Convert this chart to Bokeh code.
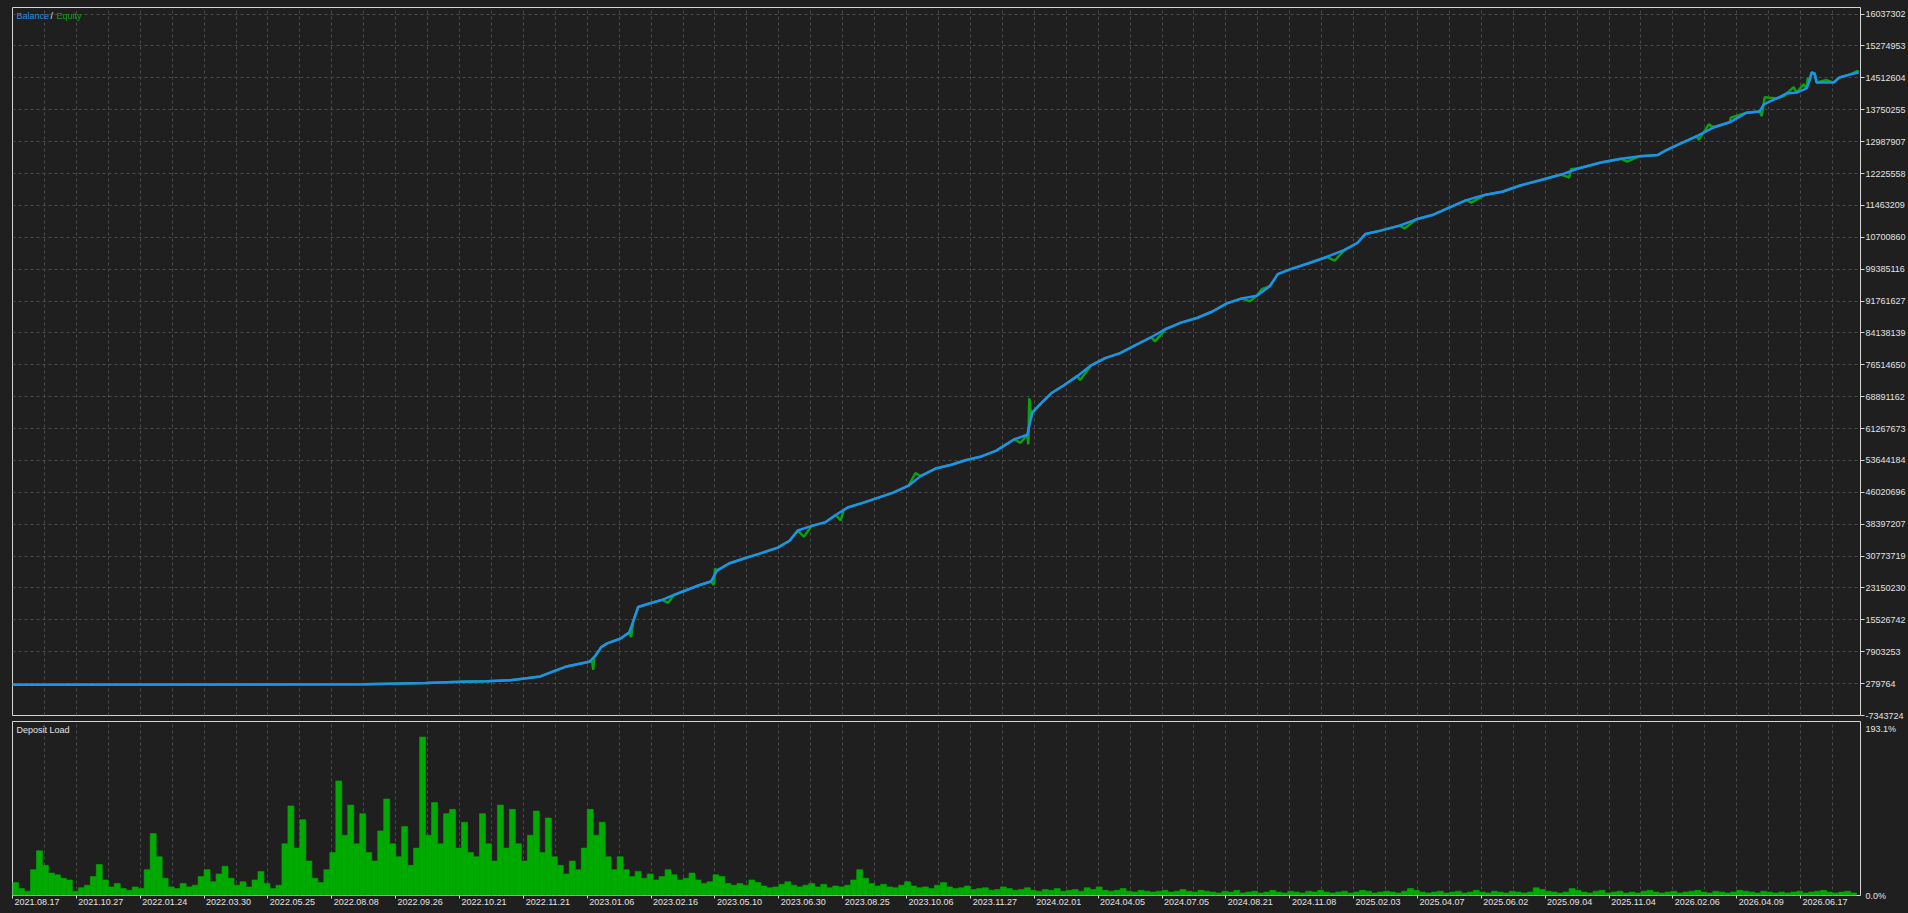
from bokeh.plotting import figure
from bokeh.models import (Range1d, FixedTicker, SingleIntervalTicker, Label, LinearAxis)
from bokeh.layouts import column
from bokeh.embed import file_html
from bokeh.resources import INLINE

try:
    from bokeh.models import GlobalInlineStyleSheet
    SHEETS = [GlobalInlineStyleSheet(css="html, body { background-color: #1f1f1f; }")]
except Exception:
    SHEETS = []

# ---------------- data ----------------
# x axis: deal index (one date label every 64 deals)
X_LABELS = ["2021.08.17", "2021.10.27", "2022.01.24", "2022.03.30", "2022.05.25", "2022.08.08",
            "2022.09.26", "2022.10.21", "2022.11.21", "2023.01.06", "2023.02.16", "2023.05.10",
            "2023.06.30", "2023.08.25", "2023.10.06", "2023.11.27", "2024.02.01", "2024.04.05",
            "2024.07.05", "2024.08.21", "2024.11.08", "2025.02.03", "2025.04.07", "2025.06.02",
            "2025.09.04", "2025.11.04", "2026.02.06", "2026.04.09", "2026.06.17"]
X_STEP = 64
X_END = 1852

Y_TICKS = [-7343725, 279764, 7903253, 15526742, 23150230, 30773719, 38397207, 46020696,
           53644184, 61267673, 68891162, 76514650, 84138139, 91761627, 99385116, 107008604,
           114632093, 122255581, 129879070, 137502558, 145126047, 152749535, 160373024]
Y_LABELS = ["-7343724", "279764", "7903253", "15526742", "23150230", "30773719", "38397207",
            "46020696", "53644184", "61267673", "68891162", "76514650", "84138139", "91761627",
            "99385116", "10700860", "11463209", "12225558", "12987907", "13750255", "14512604",
            "15274953", "16037302"]
Y_MIN = -7343725
Y_MAX = 161950000

# balance (millions)
BAL_X = [0, 353, 414, 450, 475, 499, 517, 529, 542, 554,
         566, 578, 584, 590, 596, 609, 618, 622, 627, 639,
         651, 663, 675, 688, 700, 706, 718, 733, 748, 767,
         779, 787, 801, 815, 825, 837, 852, 867, 882, 898,
         910, 925, 941, 955, 971, 986, 1004, 1017, 1022, 1030,
         1041, 1053, 1067, 1081, 1095, 1110, 1126, 1141, 1156, 1171,
         1187, 1202, 1217, 1232, 1247, 1260, 1268, 1281, 1299, 1317,
         1335, 1348, 1356, 1371, 1390, 1407, 1424, 1438, 1457, 1475,
         1493, 1511, 1530, 1552, 1570, 1592, 1612, 1631, 1649, 1657,
         1673, 1688, 1705, 1721, 1738, 1751, 1755, 1768, 1778, 1788,
         1798, 1801, 1803, 1806, 1808, 1825, 1831, 1841, 1850]
BAL_M = [0.01, 0.1, 0.4, 0.7, 0.85, 1.1, 1.6, 2.0, 3.2, 4.3,
         4.9, 5.5, 6.9, 9.0, 9.9, 11.0, 12.5, 15.1, 18.6, 19.5,
         20.3, 21.5, 22.6, 23.8, 24.7, 27.3, 29.0, 30.2, 31.3, 32.8,
         34.5, 36.9, 38.0, 38.9, 40.6, 42.4, 43.5, 44.7, 45.9, 47.6,
         49.9, 51.7, 52.6, 53.7, 54.6, 56.0, 58.7, 59.8, 65.1, 67.1,
         69.7, 71.5, 73.8, 76.4, 78.1, 79.3, 81.3, 83.1, 85.1, 86.6,
         87.7, 89.2, 91.2, 92.4, 93.0, 95.3, 98.2, 99.4, 100.8, 102.3,
         104.0, 105.7, 107.8, 108.6, 109.8, 111.3, 112.4, 113.9, 115.9, 117.1,
         117.9, 119.4, 120.6, 122.0, 123.5, 124.9, 125.8, 126.4, 126.7, 127.8,
         129.6, 131.2, 133.3, 134.5, 136.8, 137.1, 138.8, 140.2, 141.4, 141.6,
         142.6, 144.5, 146.4, 146.2, 144.0, 144.0, 145.2, 145.9, 146.4]

# equity (millions)
EQ_X = [0, 353, 414, 450, 475, 499, 517, 529, 542, 554,
        566, 578, 581, 582, 583, 584, 590, 596, 609, 618,
        620, 622, 627, 639, 651, 657, 663, 675, 688, 700,
        703, 704, 706, 718, 733, 748, 767, 779, 787, 793,
        801, 815, 825, 830, 833, 837, 852, 867, 882, 898,
        905, 910, 925, 941, 955, 971, 986, 1004, 1010, 1017,
        1018, 1019, 1021, 1022, 1030, 1041, 1053, 1067, 1070, 1081,
        1095, 1110, 1126, 1141, 1145, 1156, 1171, 1187, 1202, 1217,
        1232, 1240, 1247, 1252, 1260, 1268, 1281, 1299, 1317, 1325,
        1335, 1340, 1348, 1356, 1371, 1390, 1395, 1407, 1424, 1438,
        1457, 1462, 1475, 1493, 1511, 1530, 1552, 1560, 1562, 1570,
        1592, 1612, 1618, 1631, 1649, 1657, 1673, 1688, 1690, 1700,
        1705, 1721, 1722, 1738, 1751, 1753, 1755, 1756, 1768, 1775,
        1778, 1785, 1788, 1795, 1798, 1799, 1801, 1803, 1806, 1808,
        1818, 1825, 1831, 1841, 1845, 1849, 1850]
EQ_M = [0.01, 0.1, 0.4, 0.7, 0.85, 1.1, 1.6, 2.0, 3.2, 4.3,
        4.9, 5.5, 5.6, 3.6, 6.5, 6.9, 9.0, 9.9, 11.0, 12.5,
        11.4, 15.1, 18.6, 19.5, 20.3, 19.6, 21.5, 22.6, 23.8, 24.7,
        23.9, 27.8, 27.3, 29.0, 30.2, 31.3, 32.8, 34.5, 36.9, 35.4,
        38.0, 38.9, 40.6, 39.3, 41.8, 42.4, 43.5, 44.7, 45.9, 47.6,
        50.6, 49.9, 51.7, 52.6, 53.7, 54.6, 56.0, 58.7, 57.8, 59.8,
        57.5, 68.5, 64.0, 65.1, 67.1, 69.7, 71.5, 73.8, 72.9, 76.4,
        78.1, 79.3, 81.3, 83.1, 82.1, 85.1, 86.6, 87.7, 89.2, 91.2,
        92.4, 91.7, 93.0, 94.6, 95.3, 98.2, 99.4, 100.8, 102.3, 101.4,
        104.0, 104.6, 105.7, 107.8, 108.6, 109.8, 109.1, 111.3, 112.4, 113.9,
        115.9, 115.3, 117.1, 117.9, 119.4, 120.6, 122.0, 121.3, 123.3, 123.5,
        124.9, 125.8, 125.1, 126.4, 126.7, 127.8, 129.6, 131.2, 130.3, 134.0,
        133.3, 134.5, 135.6, 136.8, 137.1, 136.0, 138.8, 140.5, 140.2, 140.8,
        141.4, 142.9, 141.6, 143.6, 142.6, 145.0, 144.5, 146.4, 146.2, 144.0,
        144.6, 144.0, 145.2, 145.9, 146.3, 146.8, 146.4]

# deposit load (%), one value per bucket of 6 deals
DL_BUCKET = 6
DL_VALUES = [
    15, 8, 5, 30, 52, 35, 26, 24, 20, 18,
    5, 9, 12, 22, 36, 18, 10, 14, 8, 6,
    10, 8, 30, 72, 45, 20, 10, 8, 14, 10,
    12, 22, 30, 16, 25, 34, 20, 12, 16, 10,
    18, 28, 14, 8, 12, 60, 104, 55, 88, 40,
    20, 15, 30, 50, 133, 70, 105, 60, 95, 50,
    40, 75, 112, 60, 45, 80, 35, 55, 184, 70,
    108, 60, 95, 100, 55, 85, 50, 45, 95, 60,
    40, 105, 55, 100, 60, 40, 70, 98, 50, 90,
    45, 35, 25, 40, 30, 55, 100, 70, 85, 45,
    30, 45, 30, 22, 28, 20, 25, 18, 22, 30,
    24, 18, 20, 26, 18, 14, 16, 24, 22, 14,
    12, 14, 12, 18, 15, 11, 9, 10, 13, 16,
    12, 10, 12, 14, 10, 13, 9, 11, 10, 12,
    18, 30, 20, 14, 11, 13, 10, 9, 12, 16,
    11, 9, 10, 8, 12, 15, 10, 8, 9, 11,
    7, 8, 9, 6, 7, 10, 8, 6, 7, 9,
    6, 5, 7, 6, 8, 5, 6, 7, 5, 9,
    7, 10, 6, 5, 6, 8, 5, 4, 6, 5,
    4, 5, 6, 4, 5, 7, 5, 4, 6, 5,
    4, 3, 5, 4, 6, 3, 4, 5, 3, 4,
    6, 4, 3, 5, 4, 3, 5, 4, 6, 4,
    3, 4, 5, 3, 4, 6, 5, 3, 4, 5,
    4, 3, 5, 8, 6, 4, 3, 4, 5, 3,
    4, 5, 3, 4, 6, 4, 3, 5, 4, 3,
    5, 4, 3, 4, 9, 7, 5, 4, 3, 4,
    8, 6, 4, 3, 5, 6, 3, 4, 5, 3,
    4, 3, 5, 6, 4, 3, 4, 5, 3, 4,
    5, 6, 4, 3, 5, 4, 3, 4, 6, 5,
    4, 3, 5, 4, 3, 4, 3, 4, 5, 3,
    4, 5, 6, 4, 3, 4, 5, 3]
DL_MAX_LABEL = 193.1
DL_TOP = 202

# ---------------- styles ----------------
BG = "#1f1f1f"
FRAME = "#d4d4d4"
GRID = "#4a4a4a"
TXT = "#e2e2e2"
BLUE = "#1e90f0"
GREEN_EQ = "#0ea00e"
GREEN_DL = "#00aa00"
FONT = "Liberation Sans"
FS = "9px"
W = 1908
LABEL_SHIFT = 24.5   # date labels sit to the right of their tick, as in the terminal

xr = Range1d(0, X_END)

p1 = figure(width=W, height=721, x_range=xr, y_range=Range1d(Y_MIN, Y_MAX),
            x_axis_location=None, y_axis_location="right", toolbar_location=None,
            output_backend="svg", min_border_left=12, min_border_right=46,
            min_border_top=7, min_border_bottom=6, background_fill_color=BG,
            border_fill_color=BG, outline_line_color=FRAME, outline_line_width=1,
            stylesheets=SHEETS)

p1.line(EQ_X, [v * 1e6 for v in EQ_M], line_color=GREEN_EQ, line_width=2.5)
p1.line(BAL_X, [v * 1e6 for v in BAL_M], line_color=BLUE, line_width=2.5)

ax = p1.yaxis[0]
ax.ticker = FixedTicker(ticks=Y_TICKS)
ax.major_label_overrides = dict(zip(Y_TICKS, Y_LABELS))
ax.major_tick_out = 4
ax.major_tick_in = 0
ax.major_tick_line_color = FRAME
ax.minor_tick_line_color = None
ax.axis_line_color = None
ax.major_label_standoff = 1
ax.major_label_text_font = FONT
ax.major_label_text_font_size = FS
ax.major_label_text_color = TXT

p1.xgrid.ticker = SingleIntervalTicker(interval=X_STEP // 2, num_minor_ticks=0)
p1.ygrid.ticker = FixedTicker(ticks=Y_TICKS)
for g in (p1.xgrid, p1.ygrid):
    g.grid_line_color = GRID
    g.grid_line_dash = "3 3"
    g.grid_line_width = 1

leg_items = [("Balance", BLUE, 4), ("/", TXT, 38), ("Equity", GREEN_EQ, 44)]
for txt, col, off in leg_items:
    p1.add_layout(Label(x=0, y=Y_MAX, x_offset=off, y_offset=-8, text=txt,
                        text_color=col, text_font=FONT, text_font_size=FS,
                        text_baseline="middle"))

# ---------------- deposit load panel ----------------
p2 = figure(width=W, height=192, x_range=xr, y_range=Range1d(0, DL_TOP),
            x_axis_location="below", y_axis_location="right", toolbar_location=None,
            output_backend="svg", min_border_left=12, min_border_right=46,
            min_border_top=0, min_border_bottom=18, background_fill_color=BG,
            border_fill_color=BG, outline_line_color=FRAME, outline_line_width=1,
            stylesheets=SHEETS)

dl_x = [DL_BUCKET * i + DL_BUCKET / 2 for i in range(len(DL_VALUES))]
p2.vbar(x=dl_x, width=DL_BUCKET, top=DL_VALUES, bottom=0,
        fill_color=GREEN_DL, line_color=GREEN_DL, line_width=0.6)

ay = p2.yaxis[0]
ay.ticker = FixedTicker(ticks=[0, DL_MAX_LABEL])
ay.major_label_overrides = {0: "0.0%", DL_MAX_LABEL: "193.1%"}
ay.major_tick_out = 0
ay.major_tick_in = 0
ay.major_tick_line_color = None
ay.minor_tick_line_color = None
ay.axis_line_color = None
ay.major_label_standoff = 5
ay.major_label_text_font = FONT
ay.major_label_text_font_size = FS
ay.major_label_text_color = TXT

# axis A: tick marks only, at each date position
x_ticks = [X_STEP * k for k in range(len(X_LABELS))]
axx = p2.xaxis[0]
axx.ticker = FixedTicker(ticks=x_ticks)
axx.major_label_overrides = {t: "" for t in x_ticks}
axx.major_label_text_font_size = "0px"
axx.major_label_standoff = 0
axx.major_tick_out = 3
axx.major_tick_in = 0
axx.major_tick_line_color = FRAME
axx.minor_tick_line_color = None
axx.axis_line_color = None

# axis B: the date texts, placed just right of each tick
lab_ticks = [t + LABEL_SHIFT for t in x_ticks]
axl = LinearAxis(ticker=FixedTicker(ticks=lab_ticks),
                 major_label_overrides=dict(zip(lab_ticks, X_LABELS)),
                 major_tick_line_color=None, minor_tick_line_color=None,
                 axis_line_color=None, major_tick_out=0, major_tick_in=0,
                 major_label_standoff=0, major_label_text_font=FONT,
                 major_label_text_font_size=FS, major_label_text_color=TXT)
p2.add_layout(axl, "below")

p2.xgrid.ticker = SingleIntervalTicker(interval=X_STEP // 2, num_minor_ticks=0)
p2.xgrid.grid_line_color = GRID
p2.xgrid.grid_line_dash = "3 3"
p2.ygrid.grid_line_color = None

p2.add_layout(Label(x=0, y=DL_TOP, x_offset=4, y_offset=-8, text="Deposit Load",
                    text_color=TXT, text_font=FONT, text_font_size=FS,
                    text_baseline="middle"))

layout = column(p1, p2, spacing=0)
open("out.html", "w").write(file_html(layout, INLINE))
